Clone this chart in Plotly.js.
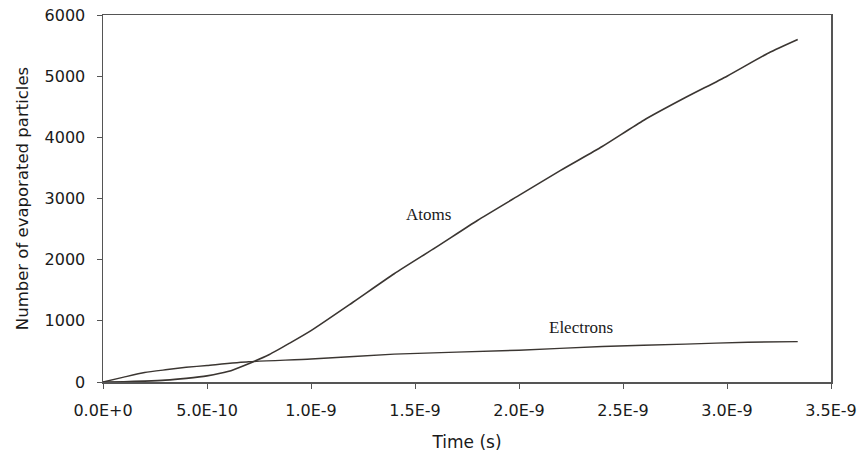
<!DOCTYPE html>
<html>
<head>
<meta charset="utf-8">
<script src="https://cdn.plot.ly/plotly-3.0.1.min.js"></script>
<style>html,body{margin:0;padding:0;background:#fff;}#chart{width:863px;height:458px;}</style>
</head>
<body>
<div id="chart"></div>
<script>
// Atoms series (time in seconds, number of evaporated particles)
const atomsTime = [0, 0.1e-9, 0.2e-9, 0.3e-9, 0.4e-9, 0.5e-9, 0.6e-9, 0.7e-9, 0.8e-9, 0.9e-9, 1.0e-9, 1.2e-9, 1.4e-9, 1.6e-9, 1.8e-9, 2.0e-9, 2.2e-9, 2.4e-9, 2.6e-9, 2.8e-9, 3.0e-9, 3.2e-9, 3.34e-9];
const atomsCount = [0, 5, 15, 30, 60, 100, 170, 300, 450, 640, 840, 1300, 1770, 2200, 2640, 3050, 3460, 3850, 4280, 4650, 5000, 5380, 5600];
// Electrons series
const electronsTime = [0, 0.1e-9, 0.2e-9, 0.3e-9, 0.4e-9, 0.5e-9, 0.7e-9, 1.0e-9, 1.4e-9, 2.0e-9, 2.4e-9, 2.8e-9, 3.1e-9, 3.34e-9];
const electronsCount = [0, 80, 155, 200, 240, 270, 330, 375, 455, 520, 580, 620, 650, 660];
// Axis ticks
const xTickVals = [0, 0.5e-9, 1.0e-9, 1.5e-9, 2.0e-9, 2.5e-9, 3.0e-9, 3.5e-9];
const xTickText = ["0.0E+0", "5.0E-10", "1.0E-9", "1.5E-9", "2.0E-9", "2.5E-9", "3.0E-9", "3.5E-9"];
const yTickVals = [0, 1000, 2000, 3000, 4000, 5000, 6000];
// Curve labels
const labelText = ["Atoms", "Electrons"];
const labelX = [1.5625e-9, 2.298e-9];
const labelY = [2746, 899];

const lineColor = '#3b3632';
const txt = '#1a1a1a';
const traces = [
  {x: atomsTime, y: atomsCount, mode: 'lines', line: {color: lineColor, width: 1.6, shape: 'spline', smoothing: 0.6}, name: 'Atoms', showlegend: false},
  {x: electronsTime, y: electronsCount, mode: 'lines', line: {color: lineColor, width: 1.4, shape: 'spline', smoothing: 0.6}, name: 'Electrons', showlegend: false}
];

const layout = {
  width: 863, height: 458,
  margin: {l: 103, r: 32, t: 15, b: 76},
  paper_bgcolor: '#fff', plot_bgcolor: '#fff',
  font: {family: 'DejaVu Sans, sans-serif', size: 16, color: txt},
  xaxis: {
    range: [0, 3.5e-9], tickvals: xTickVals, ticktext: xTickText,
    showgrid: false, zeroline: false, showline: true, mirror: true,
    linecolor: '#555', linewidth: 1.5, ticks: 'outside', ticklen: 5, tickcolor: '#555',
    ticklabelstandoff: 8,
    tickfont: {family: 'DejaVu Sans, sans-serif', size: 16, color: txt},
    title: {text: 'Time (s)', font: {family: 'DejaVu Sans, sans-serif', size: 17, color: txt}, standoff: 17}
  },
  yaxis: {
    range: [0, 6000], tickvals: yTickVals,
    showgrid: false, zeroline: false, showline: true, mirror: true,
    linecolor: '#555', linewidth: 1.5, ticks: 'outside', ticklen: 5, tickcolor: '#555',
    ticklabelstandoff: 8,
    tickfont: {family: 'DejaVu Sans, sans-serif', size: 16, color: txt},
    title: {text: 'Number of evaporated particles', font: {family: 'DejaVu Sans, sans-serif', size: 16.5, color: txt}, standoff: 12}
  },
  annotations: labelText.map((t, i) => ({
    x: labelX[i], y: labelY[i], xref: 'x', yref: 'y', text: t, showarrow: false,
    font: {family: 'Liberation Serif, Times New Roman, serif', size: 17, color: txt}
  }))
};

Plotly.newPlot('chart', traces, layout, {displayModeBar: false, staticPlot: true});
</script>
</body>
</html>
